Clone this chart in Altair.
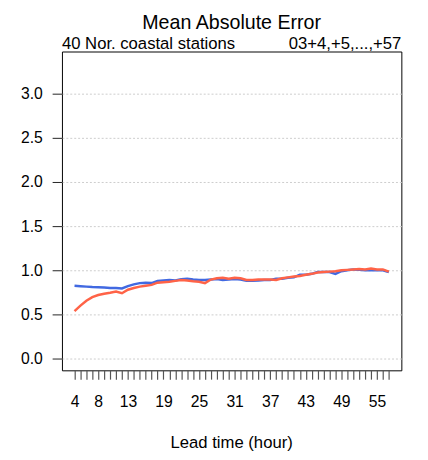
import altair as alt
import pandas as pd

hours = list(range(4, 58))
blue_mae = [0.826, 0.82, 0.815, 0.81, 0.808, 0.805, 0.80, 0.80, 0.795, 0.82,
            0.84, 0.855, 0.86, 0.855, 0.88, 0.885, 0.89, 0.885, 0.90, 0.905,
            0.895, 0.89, 0.89, 0.895, 0.90, 0.89, 0.895, 0.90, 0.895, 0.88,
            0.88, 0.885, 0.89, 0.89, 0.905, 0.905, 0.915, 0.92, 0.95, 0.95,
            0.96, 0.98, 0.98, 0.98, 0.96, 0.99, 1.0, 1.01, 1.005, 1.0,
            1.0, 1.0, 1.0, 0.98]
red_mae = [0.537, 0.60, 0.655, 0.695, 0.72, 0.735, 0.745, 0.76, 0.74, 0.78,
           0.80, 0.815, 0.825, 0.835, 0.86, 0.865, 0.87, 0.88, 0.89, 0.885,
           0.875, 0.87, 0.855, 0.895, 0.91, 0.915, 0.905, 0.915, 0.91, 0.89,
           0.89, 0.895, 0.895, 0.895, 0.89, 0.91, 0.92, 0.93, 0.935, 0.95,
           0.96, 0.975, 0.98, 0.985, 0.99, 1.0, 1.005, 1.01, 1.015, 1.01,
           1.02, 1.01, 1.01, 0.985]
label_hours = [4, 8, 13, 19, 25, 31, 37, 43, 49, 55]
y_ticks = [0.0, 0.5, 1.0, 1.5, 2.0, 2.5, 3.0]

title = "Mean Absolute Error"
sub_left = "40 Nor. coastal stations"
sub_right = "03+4,+5,...,+57"
x_title = "Lead time (hour)"

W, H = 346, 325
FONT = "Liberation Sans"

df = pd.DataFrame({
    "hour": hours * 2,
    "mae": blue_mae + red_mae,
    "model": ["A"] * len(hours) + ["B"] * len(hours),
})

lab_list = ",".join(str(v) for v in label_hours)

xscale = alt.Scale(domain=[1.88, 59.12], nice=False, zero=False)
yscale = alt.Scale(domain=[-0.133, 3.478], nice=False, zero=False)

lines = alt.Chart(df).mark_line(strokeWidth=2.5, clip=True).encode(
    x=alt.X("hour:Q", scale=xscale,
            axis=alt.Axis(values=hours, title=None, grid=False, domain=False,
                          tickSize=9, tickColor="#555", tickWidth=1.2,
                          labelExpr=f"indexof([{lab_list}], datum.value) >= 0 ? datum.label : ''",
                          labelOverlap=False, labelFlush=False, labelPadding=15,
                          labelFont=FONT, labelFontSize=16, labelColor="black")),
    y=alt.Y("mae:Q", scale=yscale,
            axis=alt.Axis(values=y_ticks, format=".1f", title=None, grid=True,
                          gridColor="#cccccc", gridDash=[2, 2], gridWidth=1,
                          domain=False, tickSize=10, tickColor="#222",
                          labelPadding=10, labelFont=FONT, labelFontSize=16,
                          labelColor="black")),
    color=alt.Color("model:N", legend=None,
                    scale=alt.Scale(domain=["A", "B"], range=["#4169E1", "#FF6347"])),
    order=alt.Order("model:N"),
)

def txt(s, x, y, align, size):
    return alt.Chart(pd.DataFrame({"t": [s]})).mark_text(
        align=align, baseline="alphabetic", font=FONT, fontSize=size, color="black"
    ).encode(x=alt.value(x), y=alt.value(y), text="t:N")

chart = alt.layer(
    lines,
    txt(title, W / 2, -23, "center", 20),
    txt(sub_left, 0, -3, "left", 17),
    txt(sub_right, W, -3, "right", 17),
    txt(x_title, W / 2, 404, "center", 17),
).properties(
    width=W, height=H,
    autosize=alt.AutoSizeParams(type="none"),
    padding={"left": 55, "top": 40, "right": 19, "bottom": 84},
).configure_view(stroke="black", strokeWidth=1)

chart.save("out.html", embed_options={"renderer": "svg", "actions": False})
